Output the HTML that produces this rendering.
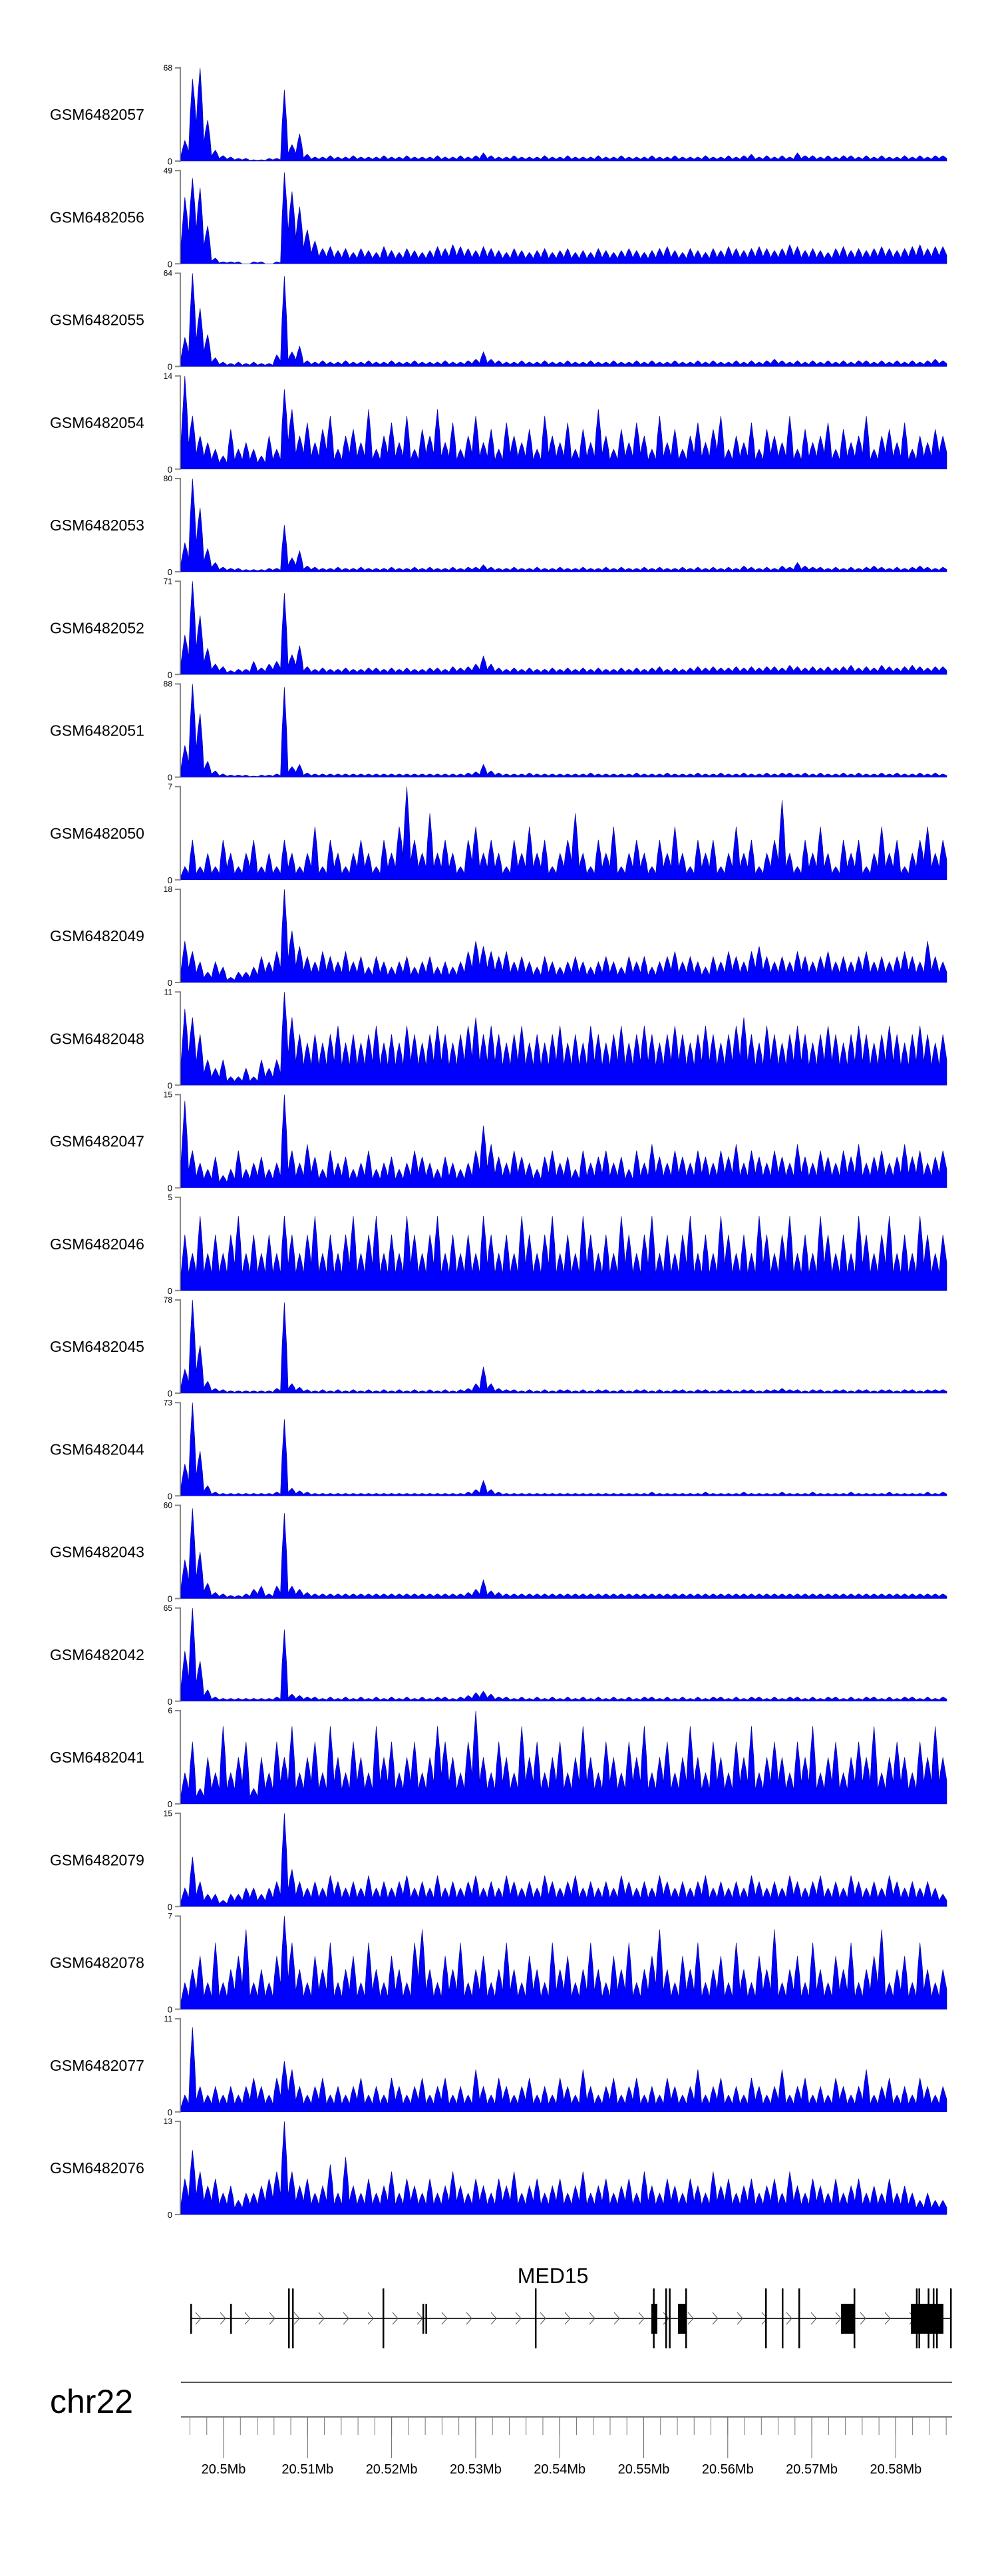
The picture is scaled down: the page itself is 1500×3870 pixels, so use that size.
<!DOCTYPE html>
<html><head><meta charset="utf-8"><style>
html,body{margin:0;padding:0;background:#fff;}
svg{display:block;font-family:"Liberation Sans",sans-serif;}
</style></head><body>
<svg id="chart" width="1500" height="3870" viewBox="0 0 1500 3870" xmlns="http://www.w3.org/2000/svg">
<g id="tracks"></g>
<g id="gene"></g>
<g id="axis"></g>
</svg>
<script>
const sampleNames=["GSM6482057","GSM6482056","GSM6482055","GSM6482054","GSM6482053","GSM6482052","GSM6482051","GSM6482050","GSM6482049","GSM6482048","GSM6482047","GSM6482046","GSM6482045","GSM6482044","GSM6482043","GSM6482042","GSM6482041","GSM6482079","GSM6482078","GSM6482077","GSM6482076"];
const trackMax=[68,49,64,14,80,71,88,7,18,11,15,5,78,73,60,65,6,15,7,11,13];
const v057=[15,60,68,30,8,4,3,2,2,1,1,2,2,52,12,20,5,3,3,4,3,3,4,3,3,3,4,3,3,4,3,3,3,4,3,3,4,3,4,6,4,3,3,4,3,3,3,4,3,3,4,3,3,3,4,3,3,4,3,3,3,4,3,3,4,3,3,3,4,3,3,4,3,4,5,3,4,3,4,3,6,4,4,3,4,3,4,4,3,4,3,4,3,3,4,3,4,3,4,4];
const v056=[35,45,40,20,3,1,1,1,0,1,1,0,1,48,38,30,18,12,8,9,7,8,6,8,7,6,9,7,6,8,7,6,7,9,8,10,9,8,7,9,8,7,6,8,7,6,7,8,6,7,8,6,7,6,8,7,6,7,8,7,6,7,8,9,7,6,8,7,6,8,7,9,8,7,8,9,8,7,8,10,9,7,8,7,6,8,9,7,8,7,8,9,8,7,8,9,10,8,9,9];
const v055=[20,64,40,22,6,3,2,3,2,3,2,2,8,62,10,14,4,3,4,3,3,4,3,3,4,3,3,4,3,3,4,3,3,3,4,3,3,4,5,10,5,4,3,3,4,3,3,4,3,3,4,3,3,4,3,3,4,3,3,4,3,4,3,3,4,3,3,4,3,4,3,3,4,3,4,3,4,5,4,3,4,3,4,3,4,3,4,3,4,4,3,4,3,4,3,4,3,4,5,4];
const v054=[14,8,5,4,3,2,6,3,4,3,2,5,3,12,9,5,7,4,6,8,3,5,6,4,9,3,5,7,4,8,3,6,5,9,4,7,3,5,8,4,6,3,7,5,4,6,3,8,5,4,7,3,6,4,9,5,3,6,4,7,5,3,8,4,6,3,5,7,4,6,8,3,5,4,7,3,6,5,4,8,3,6,4,5,7,3,6,4,5,8,3,5,6,4,7,3,5,4,6,5];
const v053=[25,80,55,20,8,4,3,3,2,2,2,3,3,40,12,18,5,4,3,3,4,3,3,4,3,3,3,4,3,3,4,3,4,3,3,4,3,4,4,6,4,3,3,4,3,3,4,3,3,4,3,3,4,3,3,4,3,4,3,3,4,3,4,3,3,4,3,4,3,4,3,4,3,5,4,3,4,3,5,4,8,5,4,4,3,4,3,4,3,4,5,4,3,4,3,4,5,4,3,4];
const v052=[30,71,45,20,8,6,3,4,4,10,5,8,10,62,15,22,6,4,5,4,4,5,4,4,5,5,4,5,4,5,4,4,5,5,4,6,5,6,8,14,8,5,4,5,4,5,4,4,5,4,5,4,5,4,5,4,4,5,4,5,4,5,6,4,5,4,5,6,5,6,5,5,6,5,6,5,6,6,5,7,6,5,6,5,6,5,6,7,5,6,5,7,6,5,6,7,6,5,6,6];
const v051=[30,88,60,15,6,3,2,2,2,1,2,2,3,85,10,12,4,3,3,3,3,3,3,3,3,3,3,3,3,3,3,3,3,3,3,3,3,4,5,12,6,4,3,3,3,4,3,3,3,3,3,3,3,4,3,3,3,3,3,4,3,3,3,4,3,3,3,4,3,3,4,3,3,4,3,3,4,3,4,4,3,4,3,4,3,3,4,3,4,3,3,4,3,4,3,3,4,3,4,3];
const v050=[1,3,1,2,1,3,2,1,2,3,1,2,1,3,2,1,2,4,1,3,2,1,2,3,2,1,3,2,4,7,3,2,5,2,3,2,1,3,4,2,3,2,1,3,2,4,2,3,1,2,3,5,2,1,3,2,4,1,2,3,2,1,3,2,4,2,1,3,2,3,1,2,4,2,3,1,2,3,6,2,1,3,2,4,2,1,3,2,3,1,2,4,2,3,1,2,3,4,2,3];
const v049=[8,6,4,2,4,3,1,2,2,3,5,4,6,18,10,7,5,4,6,5,4,6,4,5,3,5,4,3,4,5,3,4,5,3,4,3,4,6,8,7,6,5,6,4,5,4,3,5,4,3,4,5,4,3,4,5,4,3,5,4,5,3,4,5,6,4,5,4,3,5,4,6,5,4,6,7,5,4,5,4,6,5,4,5,6,4,5,4,5,6,4,5,4,5,6,5,4,8,5,4];
const v048=[9,8,6,3,2,3,1,1,2,1,3,2,3,11,8,6,5,6,5,6,7,5,6,5,6,7,5,6,5,7,6,5,6,7,6,5,6,7,8,6,7,6,5,6,7,5,6,5,6,7,5,6,5,7,6,5,6,7,5,6,7,6,5,6,7,6,5,6,7,6,5,6,7,8,6,5,7,6,5,6,7,6,5,6,7,6,5,6,7,6,5,6,7,6,5,6,7,6,5,6];
const v047=[14,6,4,3,5,2,3,6,3,4,5,3,4,15,6,4,7,5,3,6,4,5,3,4,6,3,4,5,3,4,6,5,4,3,5,4,3,4,6,10,7,5,4,6,5,4,3,5,6,4,5,3,6,4,5,6,4,5,3,6,4,7,5,4,6,5,4,6,5,4,6,5,7,4,6,5,4,6,5,4,7,5,4,6,5,4,6,5,7,4,5,6,4,5,7,5,6,4,5,6];
const v046=[3,2,4,2,3,2,3,4,2,3,2,3,2,4,3,2,3,4,2,3,2,3,4,2,3,4,2,3,2,4,3,2,3,4,2,3,2,3,2,4,3,2,3,2,4,3,2,3,4,2,3,2,4,3,2,3,2,4,3,2,3,4,2,3,2,3,4,2,3,2,4,3,2,3,2,4,3,2,3,4,2,3,2,4,3,2,3,2,4,3,2,3,4,2,3,2,4,3,2,3];
const v045=[20,78,40,10,4,3,2,2,2,2,2,2,4,76,8,5,3,2,3,2,3,2,3,2,3,2,3,2,3,2,3,2,3,2,3,2,3,4,8,22,8,4,3,3,2,3,2,3,2,3,3,2,3,2,3,3,2,3,2,3,3,2,3,2,3,3,2,3,3,2,3,3,2,3,3,2,3,3,4,3,3,2,3,3,2,3,3,2,3,3,2,3,3,2,3,3,2,3,3,3];
const v044=[25,73,35,8,3,2,2,2,2,2,2,2,3,60,6,4,3,2,2,2,2,2,2,2,2,2,2,2,2,2,2,2,2,2,2,2,2,3,5,12,5,3,2,2,2,2,2,2,2,2,2,2,2,2,2,2,2,2,2,2,2,3,2,2,2,2,2,2,3,2,2,2,2,3,2,2,2,2,3,2,2,2,3,2,2,2,2,3,2,2,2,2,3,2,2,2,2,3,2,3];
const v043=[25,58,30,10,4,3,2,2,3,6,8,3,8,55,8,6,4,3,3,3,3,3,3,3,3,3,3,3,3,3,3,3,3,3,3,3,3,4,6,12,5,4,3,3,3,3,3,3,3,3,3,3,3,3,3,3,3,3,3,3,3,3,3,3,3,3,3,3,3,3,3,3,3,3,3,3,3,3,3,3,3,3,3,3,3,3,3,3,3,3,3,3,3,3,3,3,3,3,3,3];
const v042=[35,65,28,8,3,2,2,2,2,2,2,2,3,50,5,4,3,3,2,3,2,3,2,3,2,3,2,3,2,3,2,3,2,3,3,2,3,4,6,7,5,3,3,2,3,2,3,2,3,2,3,2,3,2,3,2,3,2,3,2,3,3,2,3,2,3,2,3,2,3,3,2,3,2,3,3,2,3,2,3,3,2,3,2,3,3,2,3,2,3,3,2,3,2,3,3,2,3,2,3];
const v041=[2,4,1,3,2,5,2,3,4,1,3,2,4,3,5,2,3,4,2,5,3,2,4,3,2,5,3,4,2,3,4,2,3,5,4,3,2,4,6,3,2,4,3,2,5,3,4,2,3,4,2,3,5,3,2,4,3,2,4,3,5,2,3,4,2,3,5,3,2,4,3,2,4,3,5,2,3,4,3,2,4,3,5,2,3,4,2,3,4,3,5,2,3,4,3,2,4,3,5,3];
const v079=[3,8,4,2,2,1,2,2,3,3,2,3,4,15,6,4,3,4,3,5,4,3,4,3,5,3,4,3,4,5,3,4,3,5,3,4,3,4,5,3,4,3,5,4,3,4,3,5,4,3,4,5,3,4,3,4,3,5,4,3,4,3,5,4,3,4,3,4,5,3,4,3,4,3,5,4,3,4,3,5,4,3,4,5,3,4,3,5,4,3,4,3,5,4,3,4,3,4,3,2];
const v078=[2,3,4,2,5,2,3,4,6,2,3,2,4,7,5,3,2,4,3,5,2,3,4,2,5,3,2,4,3,2,5,6,3,2,4,3,5,2,3,4,2,3,5,3,2,4,3,2,5,3,4,2,3,5,3,2,4,3,5,2,3,4,6,3,2,4,3,5,2,3,4,2,5,3,2,4,3,6,2,3,4,2,5,3,2,4,3,5,2,3,4,6,2,3,4,2,5,3,2,3];
const v077=[2,10,3,2,3,2,3,2,3,4,3,2,4,6,5,3,2,3,4,2,3,2,3,4,2,3,2,4,3,2,3,4,2,3,4,2,3,2,5,3,2,4,3,2,3,4,2,3,2,4,3,2,5,3,2,3,4,2,3,4,2,3,2,4,3,2,3,5,2,3,4,2,3,2,4,3,2,3,5,2,3,4,2,3,2,4,3,2,3,5,2,3,4,2,3,2,4,3,2,3];
const v076=[5,9,6,4,5,3,4,2,3,3,4,5,6,13,6,4,5,3,4,7,3,8,4,3,5,3,4,6,3,5,4,3,5,3,4,6,4,3,5,4,3,5,4,6,3,4,5,3,4,5,3,4,6,3,4,5,3,4,5,3,6,4,3,5,4,3,5,4,3,6,4,5,3,4,5,3,4,5,3,6,4,3,5,4,3,5,3,4,5,3,4,3,5,3,4,3,2,3,2,2];
const seriesValues=[v057,v056,v055,v054,v053,v052,v051,v050,v049,v048,v047,v046,v045,v044,v043,v042,v041,v079,v078,v077,v076];
const genomeStart=20.49493, genomeEnd=20.5867;
const majorTicks=[20.50,20.51,20.52,20.53,20.54,20.55,20.56,20.57,20.58];
const tickLabels=["20.5Mb","20.51Mb","20.52Mb","20.53Mb","20.54Mb","20.55Mb","20.56Mb","20.57Mb","20.58Mb"];
const minorStep=0.002, minorFirst=20.496, minorLast=20.586;
const geneStart=20.49604, geneEnd=20.58654;
const exons=[[20.49604,20.49612,'c'],[20.50079,20.50087,'c'],[20.50768,20.50776,'t'],[20.50815,20.50830,'t'],[20.51892,20.51900,'t'],[20.52367,20.52375,'c'],[20.52402,20.52410,'c'],[20.53705,20.53713,'t'],[20.55091,20.55162,'c'],[20.55110,20.55118,'t'],[20.55257,20.55263,'t'],[20.55300,20.55306,'t'],[20.55408,20.55503,'c'],[20.55495,20.55503,'t'],[20.56445,20.56453,'t'],[20.56643,20.56653,'t'],[20.56841,20.56849,'t'],[20.57348,20.57506,'c'],[20.57498,20.57506,'t'],[20.58179,20.58567,'c'],[20.58240,20.58250,'t'],[20.58270,20.58278,'t'],[20.58380,20.58390,'t'],[20.58440,20.58450,'t'],[20.58480,20.58490,'t'],[20.58646,20.58654,'t']];

const NS="http://www.w3.org/2000/svg";
function mk(tag,attrs,parent){const e=document.createElementNS(NS,tag);for(const k in attrs)e.setAttribute(k,attrs[k]);parent.appendChild(e);return e;}
const X0=271, X1=1423;
const TOP0=102, PITCH=154.25, TH=140;
const gx=v=>272+(v-genomeStart)/(genomeEnd-genomeStart)*(1431-272);
const tracksG=document.getElementById('tracks');
seriesValues.forEach((vals,i)=>{
  const top=TOP0+i*PITCH, base=top+TH, mx=trackMax[i];
  const g=mk('g',{},tracksG);
  
  
  const yS=v=>base-v/mx*TH;
  const w=(X1-X0-1)/vals.length;
  const xS=j=>X0+1+(j+0.5)*w;
  const lab=mk('text',{x:75,y:top+TH/2+8,'font-size':23,fill:'#000'},g);
  lab.textContent=sampleNames[i];
  
  
  const ax=mk('path',{d:`M${X0-8},${top}H${X0}V${base}H${X0-8}`,stroke:'#888',fill:'none','stroke-width':2},g);
  
  
  const tmax=mk('text',{x:X0-12,y:top+4,'font-size':12,'text-anchor':'end',fill:'#000'},g);
  tmax.textContent=mx;
  
  
  const t0=mk('text',{x:X0-12,y:base+5,'font-size':13,'text-anchor':'end',fill:'#000'},g);
  t0.textContent='0';
  
  
  let d=`M${X0+1},${base}L${X0+1},${yS(vals[0]*0.3).toFixed(1)}`;
  vals.forEach((v,j)=>{
    d+=`L${xS(j).toFixed(1)},${yS(v).toFixed(1)}`;
    if(j<vals.length-1){
      const lo=Math.min(v,vals[j+1])*0.45;
      d+=`L${(xS(j)+w*0.3).toFixed(1)},${yS((v+lo)/2).toFixed(1)}L${(xS(j)+w*0.5).toFixed(1)},${yS(lo).toFixed(1)}L${(xS(j)+w*0.7).toFixed(1)},${yS((vals[j+1]+lo)/2).toFixed(1)}`;
    }
  });
  d+=`L${X1},${yS(vals[vals.length-1]*0.5).toFixed(1)}L${X1},${base}Z`;
  const area=mk('path',{d:d,fill:'#0000ff',stroke:'#00008b','stroke-width':0.6},g);
  
  
});
const geneG=document.getElementById('gene');
const gname=mk('text',{x:gx(20.5392),y:3430,'font-size':32,'text-anchor':'middle',fill:'#000'},geneG);
gname.textContent='MED15';


const gl=mk('line',{x1:gx(geneStart),x2:gx(geneEnd),y1:3483,y2:3483,stroke:'#333','stroke-width':2},geneG);


for(let x=gx(geneStart)+12;x<gx(geneEnd)-5;x+=37){
  const c=mk('path',{d:`M${x-4},${3474}L${x+4},${3483}L${x-4},${3492}`,stroke:'#555',fill:'none','stroke-width':1},geneG);
  
  
}
exons.forEach(e=>{
  const x=gx(e[0]),w=Math.max(2.5,gx(e[1])-x);
  const r=e[2]==='c'?mk('rect',{x:x,y:3461,width:w,height:45,fill:'#000'},geneG):mk('rect',{x:x,y:3438,width:w,height:90,fill:'#000'},geneG);
  
  
});
const axG=document.getElementById('axis');
const chr=mk('text',{x:75,y:3625,'font-size':50,fill:'#000'},axG);
chr.textContent='chr22';


const l1=mk('line',{x1:272,x2:1431,y1:3579,y2:3579,stroke:'#555','stroke-width':2},axG);


const l2=mk('line',{x1:272,x2:1431,y1:3631,y2:3631,stroke:'#777','stroke-width':2},axG);


for(let v=minorFirst;v<=minorLast+1e-9;v+=minorStep){
  const t=mk('line',{x1:gx(v),x2:gx(v),y1:3631,y2:3658,stroke:'#777','stroke-width':1},axG);
  
  
}
majorTicks.forEach((v,i)=>{
  const t=mk('line',{x1:gx(v),x2:gx(v),y1:3631,y2:3693,stroke:'#666','stroke-width':1},axG);
  
  
  const tl=mk('text',{x:gx(v),y:3716,'font-size':20,'text-anchor':'middle',fill:'#000'},axG);
  tl.textContent=tickLabels[i];
  
  
});
</script>
</body></html>
